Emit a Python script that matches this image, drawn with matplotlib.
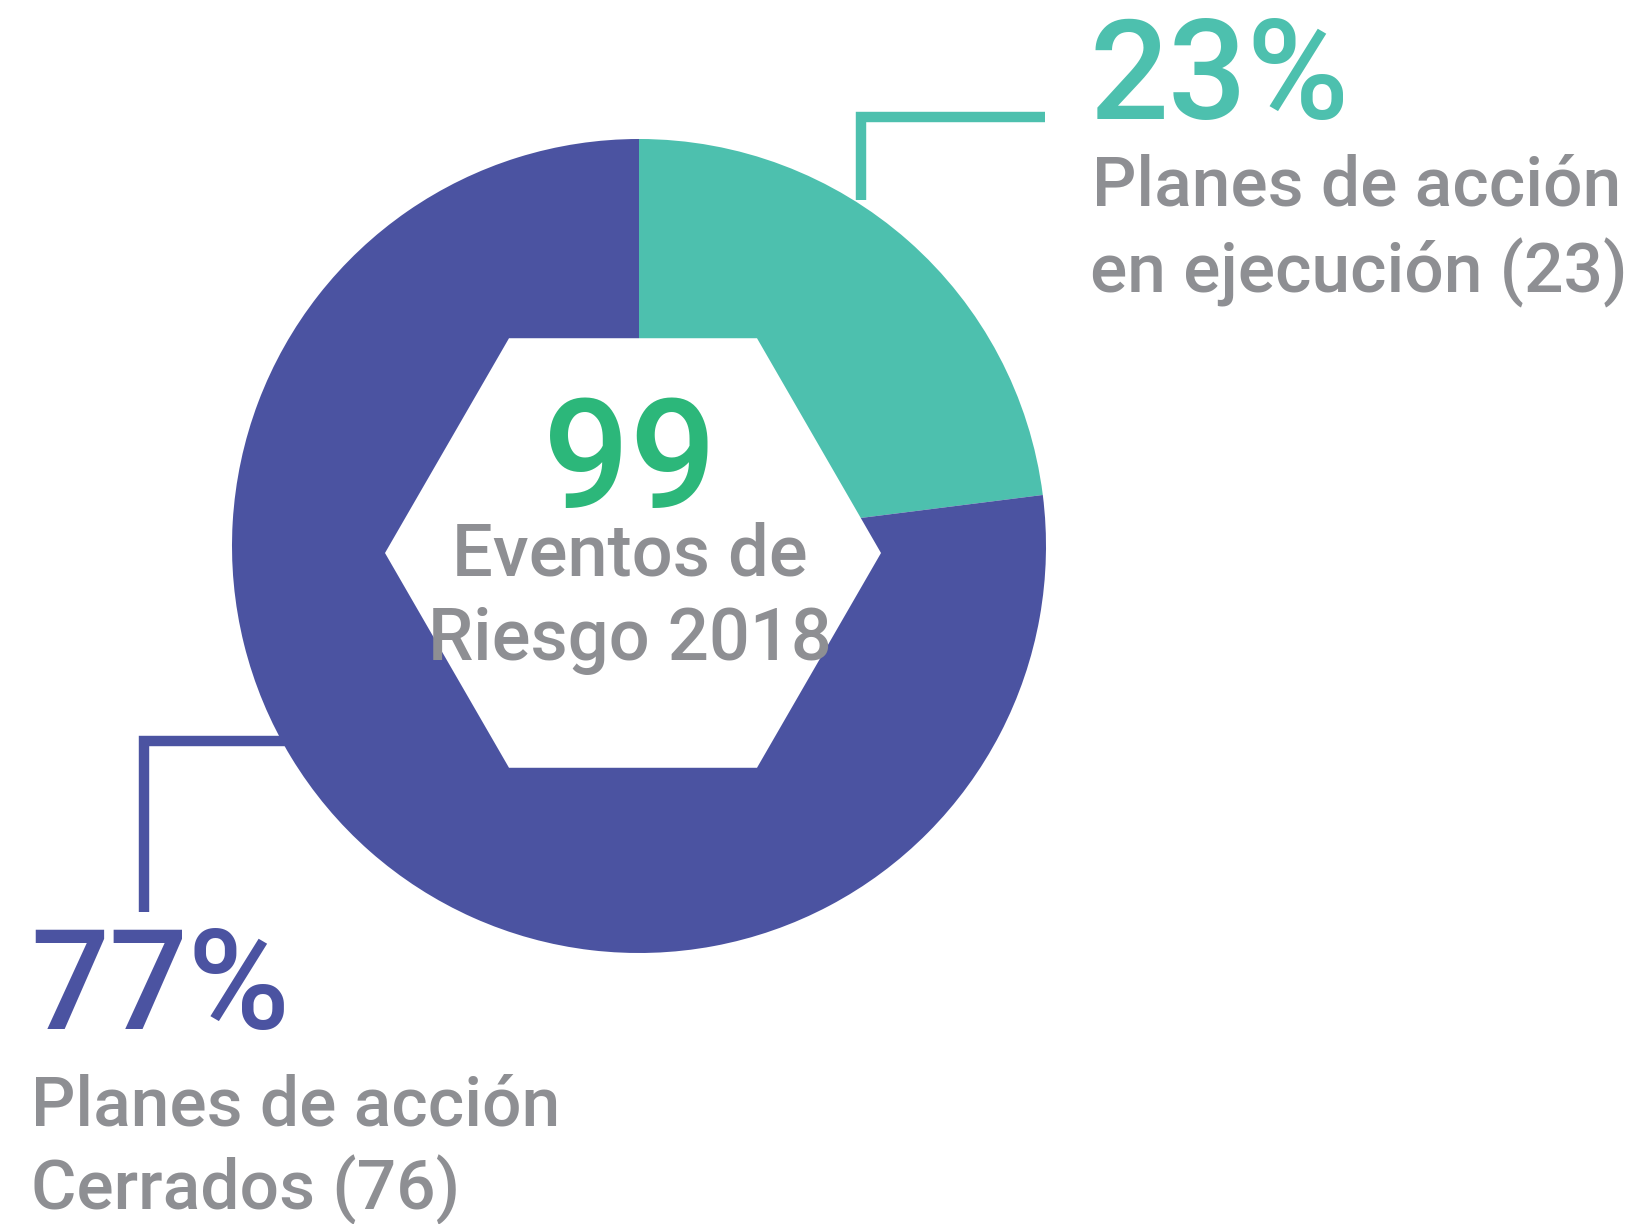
import numpy as np
import matplotlib; matplotlib.use("Agg")
import matplotlib.pyplot as plt
from matplotlib.patches import RegularPolygon

# data
labels = ["Planes de acción\nen ejecución (23)", "Planes de acción\nCerrados (76)"]
counts = [23, 76]
pct_values = [23, 77]
total = 99
center_lines = ["Eventos de", "Riesgo 2018"]

TEAL, PURPLE, GREEN, GRAY = "#4dc0ae", "#4b53a1", "#2cb77a", "#8e8f93"
plt.rcParams["font.family"] = ["Roboto", "DejaVu Sans"]
plt.rcParams["font.weight"] = 500

W, H = 1634, 1224
fig = plt.figure(figsize=(W / 100, H / 100), dpi=100)
ax = fig.add_axes([0, 0, 1, 1])

# pixel-like coordinates, y grows downward -> angles run clockwise on screen
ax.pie(pct_values, colors=[TEAL, PURPLE], center=(639, 546), radius=407,
       startangle=-90, counterclock=True, wedgeprops=dict(linewidth=0))
ax.set_xlim(0, W); ax.set_ylim(H, 0); ax.set_aspect("equal"); ax.axis("off")

ax.add_patch(RegularPolygon((633, 553), 6, radius=248, orientation=np.pi / 6,
                            fc="white", ec="none", zorder=3))

# leader lines
ax.plot([861, 861, 1045], [200, 117, 117], color=TEAL, lw=7.5,
        solid_joinstyle="miter", solid_capstyle="butt", zorder=1)
ax.plot([285, 144, 144], [741, 741, 912], color=PURPLE, lw=7.5,
        solid_joinstyle="miter", solid_capstyle="butt", zorder=1)

# labels
ax.text(1090, 119, f"{pct_values[0]}%", color=TEAL, fontsize=100,
        va="baseline", fontstretch="condensed")
ax.text(1092, 205, labels[0].split("\n")[0], color=GRAY, fontsize=50, va="baseline")
ax.text(1090, 292, labels[0].split("\n")[1], color=GRAY, fontsize=50, va="baseline")

ax.text(30, 1029, f"{pct_values[1]}%", color=PURPLE, fontsize=100, va="baseline")
ax.text(31, 1125, labels[1].split("\n")[0], color=GRAY, fontsize=50, va="baseline")
ax.text(31, 1209, labels[1].split("\n")[1], color=GRAY, fontsize=50, va="baseline")

# centre
ax.text(630, 507, str(total), color=GREEN, fontsize=110, ha="center",
        va="baseline", zorder=4)
ax.text(630, 576, center_lines[0], color=GRAY, fontsize=52, ha="center",
        va="baseline", zorder=4)
ax.text(630, 660, center_lines[1], color=GRAY, fontsize=52, ha="center",
        va="baseline", zorder=4)

fig.savefig("out.png", dpi=100)
